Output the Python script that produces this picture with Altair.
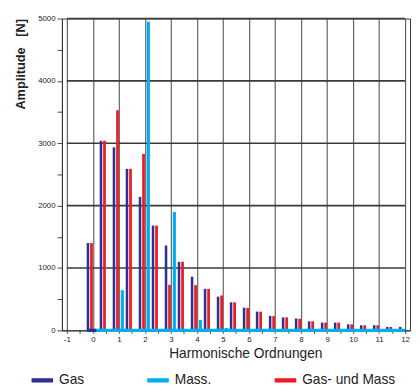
import altair as alt
import pandas as pd

# Harmonic orders (0 ... 12 in steps of 0.5)
orders = [0, 0.5, 1, 1.5, 2, 2.5, 3, 3.5, 4, 4.5, 5, 5.5, 6, 6.5, 7, 7.5,
          8, 8.5, 9, 9.5, 10, 10.5, 11, 11.5, 12]
# Gas forces [N]
gas = [1400, 3040, 2935, 2590, 2140, 1680, 1360, 1100, 860, 665, 540, 450,
       365, 300, 233, 208, 190, 145, 125, 125, 97, 82, 82, 55, 55]
# Gas and mass forces [N]
gas_mass = [1400, 3040, 3530, 2590, 2830, 1680, 730, 1100, 725, 665, 560, 450,
            360, 300, 228, 208, 185, 145, 123, 125, 97, 82, 82, 55, None]
# Mass forces [N] (only integer orders)
mass_orders = [1, 2, 3, 4, 5]
mass = [645, 4950, 1900, 165, 40]

# zero-level baseline segments (start, end order) for Gas and Mass.
baseline_start = [-0.22, 0.14]
baseline_end = [0.14, 12]

# horizontal grid levels [N]
y_grid = [1000, 2000, 3000, 4000, 5000]

series = ["Gas", "Mass.", "Gas- und Mass"]
colors = ["#2E3192", "#00AEEF", "#ED1C24"]

rows = []
for o, v in zip(orders, gas):
    rows.append({"ordnung": o, "amplitude": v, "serie": series[0]})
for o, v in zip(mass_orders, mass):
    rows.append({"ordnung": o, "amplitude": v, "serie": series[1]})
for o, v in zip(orders, gas_mass):
    if v is not None:
        rows.append({"ordnung": o, "amplitude": v, "serie": series[2]})
df = pd.DataFrame(rows)

base_df = pd.DataFrame({
    "ordnung": baseline_start,
    "ordnung_end": baseline_end,
    "amplitude": [0, 0],
    "serie": series[:2],
})
grid_df = pd.DataFrame({
    "amplitude": y_grid,
    "ordnung": [-1] * len(y_grid),
    "ordnung_end": [12] * len(y_grid),
})

x_ticks = [i / 2 for i in range(-2, 25)]
y_ticks = list(range(0, 5001, 500))

x_axis = alt.Axis(
    values=x_ticks,
    labelExpr="datum.value % 1 == 0 ? '' + datum.value : ''",
    labelOverlap=False,
    labelFlush=False,
    title="Harmonische Ordnungen",
    titleFontSize=14,
    titleFontWeight="normal",
    titleColor="#222",
    titleX=187,
    titleY=24,
    titleAlign="center",
    titleBaseline="middle",
    labelFontSize=8,
    labelColor="#222",
    labelPadding=2,
    tickSize=3,
    tickColor="#444",
    domainColor="#333",
    grid=True,
    gridWidth=1,
    gridColor={"condition": {"test": "datum.value % 1 != 0", "value": "transparent"}, "value": "#444"},
)
y_axis = alt.Axis(
    values=y_ticks,
    format="d",
    labelExpr="datum.value % 1000 == 0 ? '' + datum.value : ''",
    labelOverlap=False,
    labelFlush=False,
    title="Amplitude\u00a0\u00a0\u00a0[N]",
    titleFontSize=13,
    titleFontWeight="bold",
    titleColor="#222",
    titleAngle=270,
    titleX=-42,
    titleY=0,
    titleAlign="right",
    titleBaseline="middle",
    labelFontSize=8,
    labelColor="#222",
    labelPadding=2,
    tickSize=5,
    tickColor="#444",
    domainColor="#333",
    grid=False,
)

x_scale = alt.Scale(domain=[-1, 12], nice=False, zero=False)
y_scale = alt.Scale(domain=[0, 5000], nice=False)

x_enc = alt.X("ordnung:Q", scale=x_scale, axis=x_axis)
y_enc = alt.Y("amplitude:Q", scale=y_scale, axis=y_axis)

color_enc = alt.Color(
    "serie:N",
    scale=alt.Scale(domain=series, range=colors),
    legend=alt.Legend(
        title=None,
        orient="none",
        legendX=-31,
        legendY=358,
        direction="horizontal",
        columns=3,
        columnPadding=64,
        symbolType="M-1,-0.2L1,-0.2L1,0.2L-1,0.2Z",
        symbolSize=484,
        symbolStrokeWidth=0,
        labelFontSize=14,
        labelColor="#222",
        labelOffset=6,
    ),
)

hgrid = alt.Chart(grid_df).mark_rule(stroke="#3a3a3a", strokeWidth=1.6, opacity=1).encode(
    x=x_enc, x2="ordnung_end:Q", y=y_enc
)

base = alt.Chart(df)

gas_bars = base.transform_filter(alt.datum.serie == series[0]).mark_bar(
    size=2.6, xOffset=-5
).encode(x=x_enc, y=y_enc, color=color_enc)

mass_bars = base.transform_filter(alt.datum.serie == series[1]).mark_bar(
    size=3.2, xOffset=3.5
).encode(x=x_enc, y=y_enc, color=color_enc)

gm_bars = base.transform_filter(alt.datum.serie == series[2]).mark_bar(
    size=2.8, xOffset=-1.4
).encode(x=x_enc, y=y_enc, color=color_enc)

baselines = alt.Chart(base_df).mark_rule(strokeWidth=3.4).encode(
    x=x_enc, x2="ordnung_end:Q", y=y_enc, color=color_enc
)

chart = alt.layer(hgrid, gas_bars, mass_bars, gm_bars, baselines).properties(
    width=355,
    height=318,
    autosize=alt.AutoSizeParams(type="none"),
    padding={"left": 55, "top": 7, "right": 2, "bottom": 54},
).configure(
    font="Liberation Sans",
).configure_view(
    stroke="#333",
    strokeWidth=1,
)

chart.save("out.html", embed_options={"renderer": "svg", "actions": False})
